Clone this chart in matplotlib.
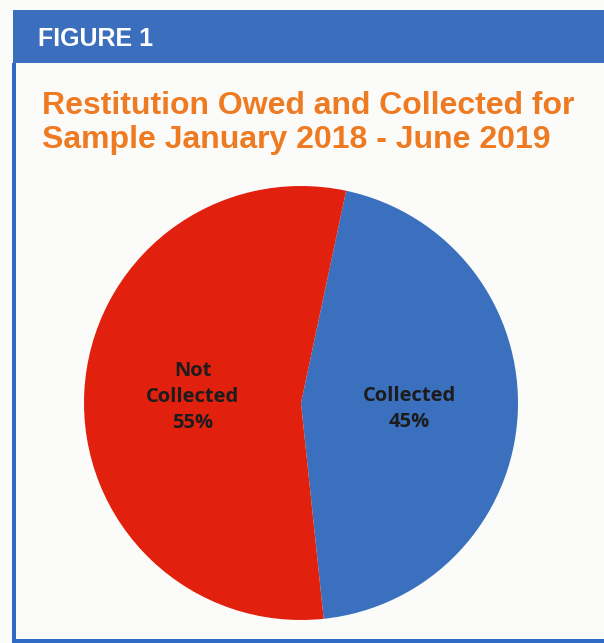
import numpy as np
import matplotlib.pyplot as plt
from matplotlib.patches import Rectangle

# data
categories = ['Collected', 'Not\nCollected']
shares = [45, 55]
colors = ['#3A70BE', '#E2200E']
label_dist = [0.50, 0.50]

fig = plt.figure(figsize=(6.04, 6.43), dpi=100)
fig.patch.set_facecolor('#FBFBF9')

# frame: header bar + left/bottom border
fig.patches.append(Rectangle((13 / 604, 1 - 63 / 643), 1, 53 / 643, transform=fig.transFigure,
                             facecolor='#3B6FBE', edgecolor='none'))
fig.patches.append(Rectangle((12 / 604, 2 / 643), 4 / 604, 1 - 65 / 643, transform=fig.transFigure,
                             facecolor='#2F6BC4', edgecolor='none'))
fig.patches.append(Rectangle((12 / 604, 0), 1, 4 / 643, transform=fig.transFigure,
                             facecolor='#2F6BC4', edgecolor='none'))

fig.text(38 / 604, 1 - 39 / 643, 'FIGURE 1', color='white', fontsize=18, fontweight='bold',
         family='Liberation Sans', va='center', ha='left')

fig.text(42 / 604, 1 - 123 / 643, 'Restitution Owed and Collected for\nSample January 2018 - June 2019',
         color='#EE7A22', fontsize=23, fontweight='bold', family='Liberation Sans',
         va='center', ha='left', linespacing=1.2)

# pie
cx, cy, r = 301, 403, 217
ax = fig.add_axes([(cx - r) / 604, (643 - cy - r) / 643, 2 * r / 604, 2 * r / 643])
wedges, _ = ax.pie(shares, colors=colors, startangle=78, counterclock=False,
                   wedgeprops=dict(linewidth=0))
ax.set_aspect('equal')
ax.set_xlim(-1, 1)
ax.set_ylim(-1, 1)

for w, name, pct, d in zip(wedges, categories, shares, label_dist):
    mid = np.deg2rad((w.theta1 + w.theta2) / 2)
    ax.text(d * np.cos(mid), d * np.sin(mid), f'{name}\n{pct}%', ha='center', va='center',
            fontsize=14.5, fontweight='bold', family='Open Sans', color='#1C1C1C', linespacing=1.4)

fig.savefig('out.png', dpi=100, facecolor=fig.get_facecolor())
